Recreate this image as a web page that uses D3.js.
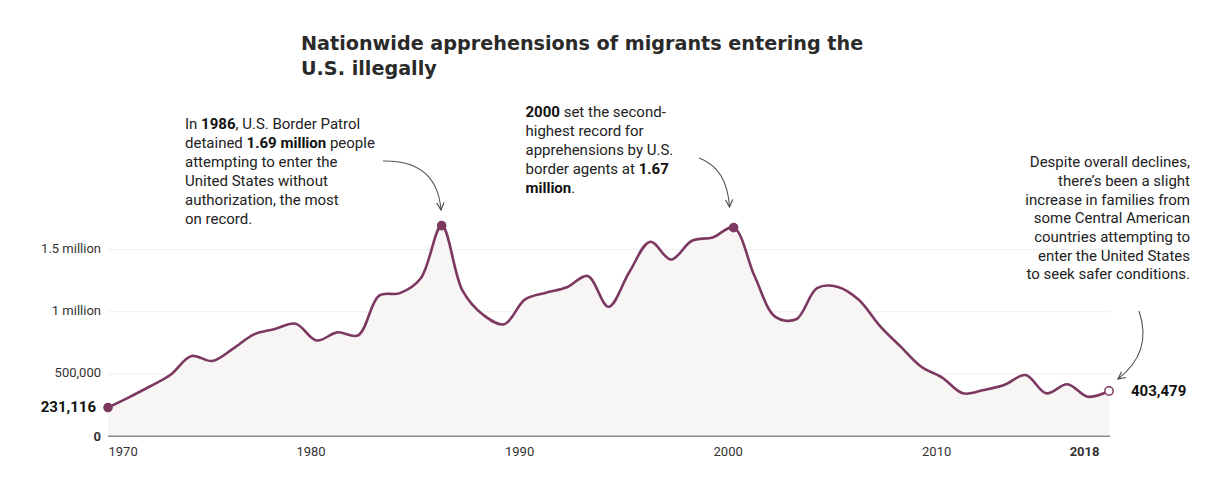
<!DOCTYPE html>
<html>
<head>
<meta charset="utf-8">
<script src="https://cdn.jsdelivr.net/npm/d3@7"></script>
<style>
  html, body { margin: 0; padding: 0; background: #fff; }
  svg { display: block; }
  text { font-family: Roboto, "Noto Sans", sans-serif; fill: #222; }
</style>
</head>
<body>
<svg id="chart" width="1232" height="490"></svg>
<script>
// ---------- data ----------
const years = [1970,1971,1972,1973,1974,1975,1976,1977,1978,1979,
               1980,1981,1982,1983,1984,1985,1986,1987,1988,1989,
               1990,1991,1992,1993,1994,1995,1996,1997,1998,1999,
               2000,2001,2002,2003,2004,2005,2006,2007,2008,2009,
               2010,2011,2012,2013,2014,2015,2016,2017,2018];
const apprehensions = [231116,313000,400000,495000,645000,605000,704000,819000,862000,905000,
               770000,835000,812000,1130000,1150000,1270000,1692544,1170000,975000,900000,
               1100000,1153000,1197000,1288000,1041000,1320000,1563000,1420000,1571000,1598000,
               1676438,1290000,960000,940000,1190000,1200000,1097000,890000,722000,559000,
               472000,345000,372000,414000,492000,345000,418000,318000,364000];
const yTickValues = [0, 500000, 1000000, 1500000];
const yTickLabels = ["0", "500,000", "1 million", "1.5 million"];
const xTickValues = [1970, 1980, 1990, 2000, 2010, 2018];
const highlightYears = [1970, 1986, 2000, 2018];
const startLabel = "231,116";
const endLabel = "403,479";
const titleLines = ["Nationwide apprehensions of migrants entering the", "U.S. illegally"];
const note1986 = [
  [["In ", 0], ["1986", 1], [", U.S. Border Patrol", 0]],
  [["detained ", 0], ["1.69 million", 1], [" people", 0]],
  [["attempting to enter the", 0]],
  [["United States without", 0]],
  [["authorization, the most", 0]],
  [["on record.", 0]]
];
const note2000 = [
  [["2000", 1], [" set the second-", 0]],
  [["highest record for", 0]],
  [["apprehensions by U.S.", 0]],
  [["border agents at ", 0], ["1.67", 1]],
  [["million", 1], [".", 0]]
];
const note2018 = [
  "Despite overall declines,",
  "there\u2019s been a slight",
  "increase in families from",
  "some Central American",
  "countries attempting to",
  "enter the United States",
  "to seek safer conditions."
];

// ---------- setup ----------
const svg = d3.select("#chart");
const purple = "#7d3862";
const x = d3.scaleLinear().domain([1970, 2018]).range([108, 1109]);
const y = d3.scaleLinear().domain([0, 1500000]).range([436.3, 249.6]);
const data = years.map((yr, i) => ({ year: yr, value: apprehensions[i] }));

// gridlines
svg.append("g").selectAll("line")
  .data(yTickValues.filter(v => v > 0))
  .join("line")
  .attr("x1", x(1970)).attr("x2", x(2018) + 1)
  .attr("y1", d => y(d)).attr("y2", d => y(d))
  .attr("stroke", "#eeeeee").attr("stroke-width", 1);

// area
const curve = d3.curveCatmullRom.alpha(0.5);
const area = d3.area()
  .x(d => x(d.year)).y0(y(0)).y1(d => y(d.value))
  .curve(curve);
svg.append("path").datum(data)
  .attr("d", area).attr("fill", "#f7f6f4");

// baseline
svg.append("line")
  .attr("x1", x(1970)).attr("x2", x(2018) + 1)
  .attr("y1", y(0)).attr("y2", y(0))
  .attr("stroke", "#8a8a8a").attr("stroke-width", 1.5);

// line
const line = d3.line()
  .x(d => x(d.year)).y(d => y(d.value))
  .curve(curve);
svg.append("path").datum(data)
  .attr("d", line).attr("fill", "none")
  .attr("stroke", purple).attr("stroke-width", 2.6)
  .attr("stroke-linejoin", "round");

// y axis labels
const yAxis = d3.axisLeft(y).tickValues(yTickValues)
  .tickFormat((d, i) => yTickLabels[i]).tickSize(0).tickPadding(0);
const yg = svg.append("g").attr("transform", "translate(101,0)").call(yAxis);
yg.select(".domain").remove();
yg.selectAll("text")
  .style("font-family", "Roboto, sans-serif")
  .style("font-size", "13px").style("fill", "#333")
  .style("font-weight", d => d === 0 ? "700" : "400")
  .attr("dy", d => d === 0 ? "0.32em" : "0.2em");

// x axis labels
const xAxis = d3.axisBottom(x).tickValues(xTickValues)
  .tickFormat(d3.format("d")).tickSize(0).tickPadding(0);
const xg = svg.append("g").attr("transform", `translate(0,${y(0) + 10})`).call(xAxis);
xg.select(".domain").remove();
xg.selectAll("text")
  .style("font-family", "Roboto, sans-serif")
  .style("font-size", "13px").style("fill", "#333")
  .style("font-weight", d => d === 2018 ? "700" : "400")
  .attr("text-anchor", d => d === 1970 ? "start" : d === 2018 ? "end" : "middle")
  .attr("dx", d => d === 1970 ? 0 : d === 2018 ? -10 : -6);

// highlight dots
svg.append("g").selectAll("circle")
  .data(data.filter(d => highlightYears.includes(d.year)))
  .join("circle")
  .attr("cx", d => x(d.year)).attr("cy", d => y(d.value))
  .attr("r", d => d.year === 2018 ? 4.2 : 4.8)
  .attr("fill", d => d.year === 2018 ? "#fff" : purple)
  .attr("stroke", purple).attr("stroke-width", d => d.year === 2018 ? 1.5 : 0);

// start / end value labels
svg.append("text")
  .attr("x", x(1970) - 12).attr("y", y(apprehensions[0]) - 1)
  .attr("dy", "0.35em").attr("text-anchor", "end")
  .style("font-size", "15px").style("font-weight", "700").style("fill", "#111")
  .text(startLabel);
svg.append("text")
  .attr("x", x(2018) + 22).attr("y", y(apprehensions[apprehensions.length - 1]))
  .attr("dy", "0.35em").attr("text-anchor", "start")
  .style("font-size", "15px").style("font-weight", "700").style("fill", "#111")
  .text(endLabel);

// title
svg.append("g").selectAll("text")
  .data(titleLines).join("text")
  .attr("x", 301).attr("y", (d, i) => 50 + i * 25)
  .style("font-family", "'DejaVu Sans', sans-serif")
  .style("font-size", "19.2px").style("font-weight", "700").style("fill", "#2a2a2a")
  .text(d => d);

// annotations
function richBlock(lines, x0, y0, lh) {
  const g = svg.append("g");
  lines.forEach((segs, i) => {
    const t = g.append("text").attr("x", x0).attr("y", y0 + i * lh)
      .style("font-size", "15px").style("fill", "#222");
    segs.forEach(([s, b]) => {
      t.append("tspan").style("font-weight", b ? "700" : "400")
        .style("fill", b ? "#111" : "#222").text(s);
    });
  });
}
richBlock(note1986, 185, 129.3, 18.9);
richBlock(note2000, 525.5, 117.3, 18.85);

svg.append("g").selectAll("text")
  .data(note2018).join("text")
  .attr("x", 1190).attr("y", (d, i) => 167.3 + i * 18.67)
  .attr("text-anchor", "end")
  .style("font-size", "15px").style("fill", "#222")
  .text(d => d);

// arrows
const defs = svg.append("defs");
defs.append("marker").attr("id", "arrow")
  .attr("viewBox", "0 0 10 10").attr("refX", 9).attr("refY", 5)
  .attr("markerWidth", 9).attr("markerHeight", 9)
  .attr("markerUnits", "userSpaceOnUse")
  .attr("orient", "auto")
  .append("path").attr("d", "M1,1 L9,5 L1,9")
  .attr("fill", "none").attr("stroke", "#444").attr("stroke-width", 1.2);

const arrows = [
  "M383,161 Q437,160 441,210",
  "M699,158 Q727,168 729.5,207",
  "M1139,311 Q1153,352 1118,379"
];
svg.append("g").selectAll("path")
  .data(arrows).join("path")
  .attr("d", d => d).attr("fill", "none")
  .attr("stroke", "#555").attr("stroke-width", 1.1)
  .attr("marker-end", "url(#arrow)");
</script>
</body>
</html>
